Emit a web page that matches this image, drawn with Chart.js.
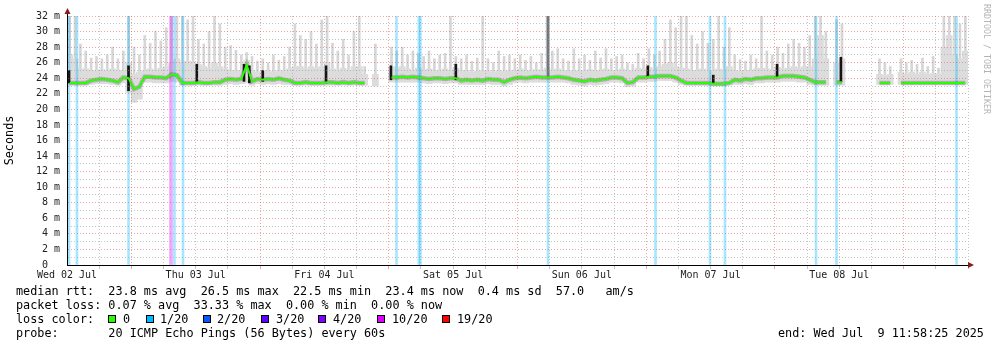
<!DOCTYPE html>
<html>
<head>
<meta charset="utf-8">
<script src="https://cdn.jsdelivr.net/npm/chart.js@4.4.0/dist/chart.umd.min.js"></script>
<style>
  body { margin: 0; background: #fff; }
  #wrap { position: relative; width: 997px; height: 347px; overflow: hidden; }
  #chart { position: absolute; left: 0; top: 0; }
  .t { position: absolute; font-family: 'DejaVu Sans Mono', monospace; font-size: 11.8px; line-height: 14px; white-space: pre; color: #000; }
  .sq { position: absolute; top: 315px; width: 6px; height: 6px; border: 1px solid #000; }
  #credit { position: absolute; left: 982px; top: 4px; writing-mode: vertical-rl; font-family: 'DejaVu Sans Mono', monospace; font-size: 8.3px; color: #b4b4b4; white-space: pre; }
</style>
</head>
<body>
<div id="wrap">
  <canvas id="chart" width="997" height="347"></canvas>
  <div id="credit">RRDTOOL / TOBI OETIKER</div>
  <div class="t" style="left:16px;top:284px">median rtt:  23.8 ms avg  26.5 ms max  22.5 ms min  23.4 ms now  0.4 ms sd  57.0   am/s</div>
  <div class="t" style="left:16px;top:298px">packet loss: 0.07 % avg  33.33 % max  0.00 % min  0.00 % now</div>
  <div class="t" style="left:16px;top:312px">loss color:</div>
  <div class="t" style="left:16px;top:326px">probe:       20 ICMP Echo Pings (56 Bytes) every 60s</div>
  <div class="t" style="left:778px;top:326px">end: Wed Jul  9 11:58:25 2025</div>
  <div id="legend"></div>
</div>
<script>
// hours since Wed 02 Jul 11:58 (one value per hour, 7 days)
var dayLabels = ['Wed 02 Jul', 'Thu 03 Jul', 'Fri 04 Jul', 'Sat 05 Jul', 'Sun 06 Jul', 'Mon 07 Jul', 'Tue 08 Jul'];

// median rtt (ms)
var median = [
  23.4, 23.4, 23.4, 23.4, 23.7, 23.8, 23.9, 23.8, 23.7, 23.5,
  24.1, 24.0, 22.6, 22.9, 24.2, 24.2, 24.1, 24.1, 24.0, 24.5,
  24.4, 23.4, 23.4, 23.4, 23.5, 23.4, 23.4, 23.5, 23.5, 23.8,
  23.9, 23.8, 23.9, 25.7, 23.6, 23.9, 23.8, 23.9, 23.8, 24.0,
  23.8, 23.7, 23.4, 23.4, 23.5, 23.4, 23.4, 23.4, 23.5, 23.5,
  23.4, 23.5, 23.4, 23.5, 23.4, 23.4, null, 23.6, null, null,
  24.1, 24.1, 24.2, 24.1, 24.2, 24.1, 24.0, 23.9, 24.0, 24.0,
  23.9, 24.0, 24.0, 23.7, 23.8, 23.7, 23.8, 23.7, 23.9, 23.8,
  23.8, 23.5, 23.8, 24.0, 24.1, 24.0, 24.1, 24.2, 24.1, 24.1,
  24.1, 24.2, 24.1, 24.0, 23.8, 23.7, 23.6, 23.8, 23.7, 23.8,
  23.9, 24.1, 24.1, 24.0, 23.4, 23.5, 24.1, 24.1, 24.2, 24.2,
  24.3, 24.3, 24.3, 24.1, 23.7, 23.4, 23.4, 23.4, 23.4, 23.4,
  23.3, 23.3, 23.3, 23.4, 23.8, 23.7, 23.9, 23.8, 24.0, 24.0,
  24.1, 24.1, 24.1, 24.3, 24.3, 24.3, 24.2, 24.1, 23.8, 23.5,
  23.5, 23.5, null, 23.5, 23.5, null, null, null, null, null,
  null, 23.4, 23.4, 23.4, null, 23.4, 23.4, 23.4, 23.4, 23.4,
  23.4, 23.4, 23.4, 23.4, 23.4, 23.4, 23.4, 23.4
];

// bottom of the smoke
var lowRtt = [
  23.1, 23.1, 23.1, 23.1, 23.2, 23.3, 23.3, 23.3, 23.2, 23.1,
  23.4, 22.2, 20.9, 21.3, 23.5, 23.5, 23.4, 23.4, 23.4, 23.6,
  23.5, 23.1, 23.1, 23.1, 23.1, 23.1, 23.1, 23.1, 23.1, 23.2,
  23.3, 23.2, 23.3, 23.4, 23.1, 23.3, 23.2, 23.3, 23.2, 23.3,
  23.2, 23.2, 23.1, 23.1, 23.1, 23.1, 23.1, 23.1, 23.1, 23.1,
  23.1, 23.1, 23.1, 23.1, 23.1, 23.1, null, 23.0, null, null,
  23.5, 23.5, 23.5, 23.5, 23.5, 23.5, 23.4, 23.3, 23.4, 23.4,
  23.3, 23.4, 23.4, 23.2, 23.2, 23.2, 23.2, 23.2, 23.3, 23.2,
  23.2, 23.0, 23.2, 23.4, 23.5, 23.4, 23.5, 23.5, 23.5, 23.5,
  23.5, 23.5, 23.5, 23.4, 23.2, 23.1, 23.0, 23.2, 23.1, 23.2,
  23.3, 23.5, 23.5, 23.4, 22.9, 23.0, 23.5, 23.5, 23.6, 23.6,
  23.7, 23.7, 23.7, 23.5, 23.2, 23.1, 23.1, 23.1, 23.1, 23.1,
  23.0, 23.0, 23.0, 23.1, 23.2, 23.2, 23.3, 23.2, 23.4, 23.4,
  23.5, 23.5, 23.5, 23.6, 23.6, 23.6, 23.5, 23.5, 23.2, 23.1,
  23.1, 23.1, null, 23.1, 23.1, null, null, null, null, null,
  null, 23.2, 23.2, 23.2, null, 23.2, 23.2, 23.2, 23.2, 23.2,
  23.2, 23.2, 23.2, 23.2, 23.2, 23.2, 23.2, 23.2
];

// top of the dense smoke
var highRtt = [
  27.0, 26.5, 25.2, 25.2, 25.0, 25.0, 25.1, 25.0, 25.2, 25.0,
  25.0, 26.0, 24.5, 24.8, 25.0, 25.2, 25.0, 25.3, 25.5, 26.0,
  26.5, 26.0, 26.2, 26.0, 25.8, 25.5, 25.3, 26.0, 25.5, 25.2,
  25.0, 25.0, 25.0, 26.3, 25.0, 24.8, 24.9, 25.0, 24.8, 25.0,
  25.0, 25.2, 25.5, 25.5, 25.2, 25.5, 25.3, 25.5, 26.0, 25.2,
  25.0, 25.3, 25.0, 25.5, 25.5, 24.5, null, 24.5, null, null,
  25.5, 25.3, 25.5, 25.2, 25.0, 25.3, 25.0, 25.2, 25.0, 25.0,
  25.2, 25.0, 25.3, 25.0, 25.0, 24.8, 24.9, 25.0, 25.0, 24.8,
  25.0, 24.9, 25.0, 25.0, 25.2, 25.0, 25.0, 25.1, 25.0, 25.3,
  25.0, 25.2, 25.0, 24.9, 25.0, 25.0, 25.0, 25.1, 25.0, 25.0,
  25.2, 25.0, 25.0, 25.2, 25.0, 25.0, 25.3, 25.2, 25.4, 25.2,
  25.5, 25.8, 26.0, 25.5, 25.3, 25.2, 25.0, 25.0, 25.2, 25.0,
  25.0, 25.2, 25.0, 25.5, 25.0, 24.9, 25.0, 25.0, 25.2, 25.3,
  25.2, 25.0, 25.4, 25.2, 25.3, 25.5, 25.3, 25.5, 25.5, 26.5,
  29.5, 26.5, null, 26.0, 26.5, null, null, null, null, null,
  null, 24.5, 24.3, 24.5, null, 24.8, 24.5, 24.8, 24.5, 24.8,
  24.5, 24.6, 24.5, 28.0, 29.5, 27.0, 26.5, 27.5
];

// highest ping in the hour
var maxRtt = [
  32, 32, 28.4, 27.5, 26.6, 26.8, 26.5, 27.0, 28.0, 26.5,
  27.5, 32, 28.0, 27.0, 29.5, 28.5, 30.0, 28.8, 30.5, 32,
  32, 32, 31.5, 32, 29.0, 28.4, 30.0, 32, 31.0, 28.0,
  28.2, 27.6, 27.0, 27.3, 26.8, 26.2, 26.5, 26.0, 27.0, 26.3,
  26.8, 28.0, 31.0, 29.5, 29.0, 30.0, 28.4, 31.5, 32, 28.5,
  27.5, 29.0, 27.0, 30.0, 32, 25.5, null, 28.4, null, null,
  28.0, 27.5, 28.0, 27.0, 27.5, 27.2, 26.8, 27.5, 26.5, 27.0,
  27.2, 32, 26.8, 26.5, 27.0, 26.2, 26.6, 32, 26.5, 26.0,
  27.5, 26.8, 27.0, 26.5, 27.0, 26.3, 26.8, 26.0, 27.2, 32,
  27.5, 27.8, 26.5, 26.2, 27.8, 26.5, 27.0, 26.3, 27.5, 26.6,
  27.8, 26.5, 26.8, 27.0, 26.0, 25.8, 27.2, 26.5, 27.8, 27.0,
  27.5, 29.0, 31.5, 30.5, 32, 32, 29.5, 28.4, 30.0, 28.5,
  29.0, 32, 28.0, 30.5, 27.0, 26.4, 26.2, 27.0, 26.5, 32,
  27.5, 27.0, 28.0, 27.2, 28.4, 29.0, 28.5, 28.0, 29.5, 32,
  32, 30.0, null, 31.5, 31.0, null, null, null, null, null,
  null, 26.5, 26.0, 25.5, null, 26.5, 26.0, 26.3, 25.8, 26.6,
  25.5, 26.8, 25.3, 32, 32, 32, 31.0, 32
];

// dark spikes of the smoke
var spikeHour = [0.37, 11.47, 24.2, 33.0, 34.0, 36.5, 48.3, 60.4, 72.5, 89.7, 108.3, 120.5, 132.4, 144.3];
var spikeLow  = [23.4, 22.4, 23.4, 23.6, 23.4, 23.6, 23.4, 23.8, 23.8, 24.0, 24.2, 23.3, 24.1, 23.5];
var spikeTop  = [25.0, 25.6, 25.8, 25.8, 25.6, 25.0, 25.6, 25.6, 25.8, 32, 25.6, 24.4, 25.8, 26.7];

// packet loss events (hour)
var loss1Hours = [0.37, 1.86, 11.47, 20.04, 21.63, 61.44, 65.6, 65.9, 89.69, 109.73, 119.89, 122.69, 139.66, 143.48, 165.86];
var loss10Hours = [19.39];

var lossLabels = ['0', '1/20', '2/20', '3/20', '4/20', '10/20', '19/20'];
var lossColors = ['#26ff00', '#00b8ff', '#0059ff', '#5e00ff', '#7e00ff', '#dd00ff', '#ff0000'];

// legend swatches
var legendBoxX = [108, 146, 203, 261, 318, 377, 442];
var legendTextX = [123, 160, 217, 276, 333, 392, 457];
var legend = document.getElementById('legend');
lossLabels.forEach(function(lbl, i) {
  var sq = document.createElement('div');
  sq.className = 'sq';
  sq.style.left = legendBoxX[i] + 'px';
  sq.style.background = lossColors[i];
  legend.appendChild(sq);
  var tx = document.createElement('div');
  tx.className = 't';
  tx.style.left = legendTextX[i] + 'px';
  tx.style.top = '312px';
  tx.textContent = lbl;
  legend.appendChild(tx);
});

function floatBars(lo, hi) {
  var out = [];
  for (var i = 0; i < lo.length; i++) {
    if (lo[i] !== null && hi[i] !== null) out.push({ x: i + 0.5, y: [lo[i], hi[i]] });
  }
  return out;
}
function linePts(arr) {
  return arr.map(function(v, i) { return { x: i + 0.5, y: v }; });
}
function fullHeight(hrs) {
  return hrs.map(function(h) { return { x: h, y: [0, 32] }; });
}

var majorGrid = 'rgba(220,90,90,0.55)';
var minorGrid = 'rgba(150,150,150,0.55)';

Chart.defaults.font.family = "'DejaVu Sans Mono', monospace";

var arrows = {
  id: 'arrows',
  afterDraw: function(chart) {
    var c = chart.ctx, a = chart.chartArea;
    c.save();
    c.strokeStyle = '#000';
    c.lineWidth = 1;
    c.beginPath();
    c.moveTo(a.left + 0.5, a.top);
    c.lineTo(a.left + 0.5, a.top - 3);
    c.stroke();
    c.fillStyle = '#8b1a1a';
    c.beginPath();
    c.moveTo(a.left - 2.5, a.top - 2);
    c.lineTo(a.left + 3.5, a.top - 2);
    c.lineTo(a.left + 0.5, a.top - 8);
    c.closePath();
    c.fill();
    c.beginPath();
    c.moveTo(a.right, a.bottom - 3);
    c.lineTo(a.right, a.bottom + 3);
    c.lineTo(a.right + 6, a.bottom);
    c.closePath();
    c.fill();
    c.restore();
  }
};

var ctx = document.getElementById('chart').getContext('2d');
new Chart(ctx, {
  type: 'bar',
  data: {
    datasets: [
      { type: 'bar', data: floatBars(highRtt, maxRtt), backgroundColor: '#d6d6d6', barThickness: 2, grouped: false, order: 8 },
      { type: 'bar', data: floatBars(lowRtt, highRtt), backgroundColor: '#dcdcdc', barThickness: 6, grouped: false, order: 7 },
      { type: 'bar', data: fullHeight(loss1Hours), backgroundColor: 'rgba(0,184,255,0.35)', barThickness: 2, grouped: false, order: 6 },
      { type: 'bar', data: fullHeight(loss10Hours), backgroundColor: 'rgba(221,0,255,0.35)', barThickness: 3, grouped: false, order: 6 },
      { type: 'line', data: linePts(median), borderColor: 'rgba(60,60,60,0.28)', borderWidth: 4.5, tension: 0, pointRadius: 0, spanGaps: false, order: 4 },
      { type: 'bar', data: spikeHour.map(function(h, i) { return { x: h, y: [spikeLow[i], spikeTop[i]] }; }),
        backgroundColor: spikeTop.map(function(t) { return t >= 32 ? '#777' : '#151515'; }), barThickness: 2, grouped: false, order: 3 },
      { type: 'line', data: linePts(median), borderColor: '#26ff00', borderWidth: 2, tension: 0, pointRadius: 0, spanGaps: false, order: 1 }
    ]
  },
  options: {
    responsive: false,
    animation: false,
    events: [],
    layout: { padding: { top: 16, right: 29, left: 0, bottom: 0 } },
    plugins: { legend: { display: false }, tooltip: { enabled: false } },
    scales: {
      x: {
        type: 'linear', min: 0, max: 168, offset: false,
        ticks: {
          stepSize: 6, autoSkip: false, maxRotation: 0, minRotation: 0, padding: 0,
          color: '#222', font: { size: 10 },
          callback: function(v) { return (v % 24 === 0 && v < 168) ? dayLabels[v / 24] : ''; }
        },
        grid: {
          z: 1, offset: false, tickLength: 4,
          color: function(c) {
            if (!c.tick || c.tick.value === 0) return 'rgba(0,0,0,0)';
            return c.tick.value % 24 === 12 ? majorGrid : minorGrid;
          }
        },
        border: { z: 1, color: '#000', width: 1, dash: [1, 2] },
        afterFit: function(s) { s.height = 82; }
      },
      y: {
        min: 0, max: 32,
        ticks: {
          stepSize: 1, autoSkip: false, padding: 7, color: '#222', font: { size: 10 },
          callback: function(v) { return v % 2 ? '' : (v === 0 ? '0  ' : v + ' m'); }
        },
        grid: {
          z: 1, drawTicks: false,
          color: function(c) {
            if (!c.tick || c.tick.value === 0) return 'rgba(0,0,0,0)';
            return c.tick.value % 2 === 0 ? majorGrid : minorGrid;
          }
        },
        border: { z: 1, color: '#000', width: 1, dash: [1, 2] },
        title: { display: true, text: 'Seconds', color: '#000', font: { size: 11.8 }, padding: { top: 3, bottom: 0 } },
        afterFit: function(s) { s.width = 67; }
      }
    }
  },
  plugins: [arrows]
});
</script>
</body>
</html>
